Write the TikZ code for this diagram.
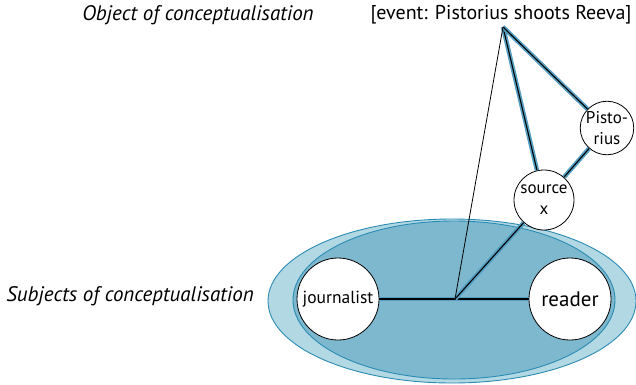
\documentclass[tikz,border=0pt]{standalone}
\usepackage{fontspec}
\setmainfont{PT Sans}
\usepackage{tikz}
\usetikzlibrary{positioning, calc}

\definecolor{paleblue}{HTML}{B2D8E4}
\definecolor{midblue}{HTML}{7DB8CF}
\definecolor{rimblue}{HTML}{2B8CB3}
\definecolor{glowblue}{HTML}{559FC2}

\tikzset{
  agent/.style={circle, draw, fill=white, line width=0.8pt, inner sep=0pt, align=center},
  tie/.style={preaction={draw, glowblue, line width=4.5pt}, draw, black, line width=1.1pt},
  heading/.style={font=\itshape\fontsize{21}{23}\selectfont}
}

\begin{document}
\begin{tikzpicture}[x=1pt, y=-1pt]
    \useasboundingbox (0,0) rectangle (636,384);

    % Ellipsen
    \draw[rimblue, fill=paleblue, line width=0.9pt] (452,301) ellipse [x radius=184, y radius=82];
    \draw[rimblue, fill=midblue, line width=0.9pt] (454,300) ellipse [x radius=161, y radius=79];

    % Ueberschriften
    \node[heading] (objlabel) at (198,15) {Object of conceptualisation};
    \node[heading] (subjlabel) at (130,296) {Subjects of conceptualisation};
    \node[font=\fontsize{20}{22}\selectfont] (event) at (501,15) {[event: Pistorius shoots Reeva]};

    % Personen
    \node[agent, minimum size=82pt, font=\fontsize{17.5}{19}\selectfont] (journalist) at (338,299) {journalist};
    \node[agent, minimum size=82pt, font=\fontsize{21}{23}\selectfont] (reader) at (570,299) {reader};
    \node[agent, minimum size=60pt, font=\fontsize{17}{21}\selectfont] (source) at (544,200) {source\\x};
    \node[agent, minimum size=52pt, font=\fontsize{17}{21}\selectfont] (pistorius) at (607,128) {Pisto-\\rius};

    \coordinate (apex) at (503,27);
    \coordinate (hub) at (455,299);

    % Verbindungen
    \draw[tie] (journalist) -- (hub);
    \draw[tie] (hub) -- (reader);
    \draw[tie] (hub) -- (source);
    \draw[tie] (apex) -- (source);
    \draw[tie] (apex) -- (pistorius);
    \draw[tie] (pistorius) -- (source);
    \draw[black, line width=0.8pt] (apex) -- (hub);

\end{tikzpicture}
\end{document}
